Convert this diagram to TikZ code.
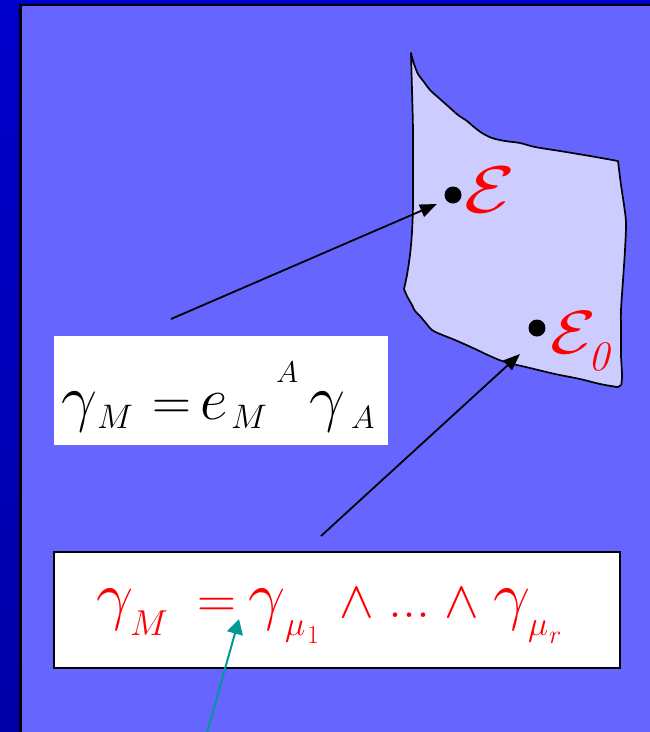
\RequirePackage{fix-cm}
\documentclass[tikz,border=0pt]{standalone}
\usepackage{fontspec}
\usetikzlibrary{arrows.meta}
\newcommand\fs[1]{\fontsize{#1}{#1}\selectfont}
\definecolor{bgmain}{RGB}{102,102,255}
\definecolor{surf}{RGB}{204,204,255}
\definecolor{striptop}{RGB}{0,0,204}
\definecolor{stripbot}{RGB}{0,0,168}
\definecolor{tealc}{RGB}{0,153,153}
\tikzset{
  gl/.style={anchor=base west, inner sep=0pt, outer sep=0pt},
  arr/.style={line width=1.8pt, -{Triangle[length=17pt,width=13pt]}},
  tarr/.style={tealc, line width=2pt, -{Triangle[length=15pt,width=16pt]}},
  dotc/.style={fill=black},
}
\begin{document}
\begin{tikzpicture}[x=1pt,y=-1pt]
\useasboundingbox (0,0) rectangle (650,732);
% background
\shade[top color=striptop, bottom color=stripbot] (0,0) rectangle (650,732);
\fill[bgmain] (20.5,5) rectangle (660,740);
\draw[black, line width=2.5pt] (20.5,740) -- (20.5,5) -- (660,5);
% surface
\draw[fill=surf, line width=1.7pt, line join=round]
  plot[smooth,tension=0.5] coordinates {(411,53) (414,64) (418,74) (424,82) (430,90) (440,99) (449,107) (458,115) (467,121) (474,127) (482,133) (492,138) (505,141) (520,143) (535,147) (560,151) (590,156) (618,161)}
  -- plot[smooth,tension=0.5] coordinates {(618,161) (621,185) (624,205) (626,223) (625,250) (623,280) (621,310) (621,330) (621,355) (622,375) (621,385) (617,387)}
  -- plot[smooth,tension=0.5] coordinates {(617,387) (600,384) (580,379) (555,374) (530,368) (505,362) (490,356) (473,348) (455,340) (440,334) (432,330) (425,322) (420,316) (415,311) (412,305) (407,296) (404,289)}
  -- plot[smooth,tension=0.5] coordinates {(404,289) (407,275) (410,255) (412,232) (413,205) (413,170) (413,130) (412,90) (411,53)}
  -- cycle;
% points
\fill[dotc] (453,195) circle[radius=8.5pt];
\fill[dotc] (537,328) circle[radius=8.5pt];
\node[gl, red, font=\fs{66}] (E) at (464,212) {\scalebox{1.25}[1]{$\mathcal{E}$}};
\node[gl, red, font=\fs{61}] (E0) at (550,353) {\scalebox{1.22}[1]{$\mathcal{E}$}};
\node[gl, red, font=\itshape\fs{42}] (E0sub) at (588,370) {0};
% box 1
\node[fill=white, inner sep=0pt, minimum width=334pt, minimum height=109pt] (boxA) at (221,390.5) {};
\begin{scope}[every node/.style={gl, black}]
\node[font=\fs{64}] (g1) at (61,419) {$\gamma$};
\node[font=\fs{34}] (s1) at (97,428) {$M$};
\node[font=\fs{54}] (eq1) at (152,419) {$=$};
\node[font=\fs{60}] (e1) at (200,419) {$e$};
\node[font=\fs{34}] (s2) at (231,428) {$M$};
\node[font=\fs{30}] (sp1) at (276,382) {$A$};
\node[font=\fs{64}] (g2) at (309,419) {$\gamma$};
\node[font=\fs{32}] (s3) at (351,428) {$A$};
\end{scope}
% box 2
\node[fill=white, draw=black, line width=2pt, inner sep=0pt, minimum width=566pt, minimum height=116pt] (boxB) at (337,610) {};
\begin{scope}[every node/.style={gl, red}]
\node[font=\fs{66}] (g3) at (96,617) {$\gamma$};
\node[font=\fs{36}] (s4) at (130,635) {$M$};
\node[font=\fs{54}] (eq2) at (197,617) {$=$};
\node[font=\fs{66}] (g4) at (248,617) {$\gamma$};
\node[font=\fs{34}] (s5) at (285,635) {$\mu$};
\node[font=\fs{26}] (s6) at (307,643) {$\mathrm{1}$};
\node[font=\fs{52}] (w1) at (339,617) {$\wedge$};
\node[font=\fs{56}] (dots) at (388,617) {...};
\node[font=\fs{52}] (w2) at (444,617) {$\wedge$};
\node[font=\fs{66}] (g5) at (493,617) {$\gamma$};
\node[font=\fs{34}] (s7) at (528,635) {$\mu$};
\node[font=\fs{26}] (s8) at (549,643) {$r$};
\end{scope}
% arrows
\coordinate (a1s) at (171,319);
\coordinate (a1e) at (437,204);
\coordinate (a2s) at (321,536);
\coordinate (a2e) at (520,354);
\coordinate (a3s) at (205,740);
\coordinate (a3e) at (239,619);
\draw[arr] (a1s) -- (a1e);
\draw[arr] (a2s) -- (a2e);
\draw[tarr] (a3s) -- (a3e);
\end{tikzpicture}
\end{document}
